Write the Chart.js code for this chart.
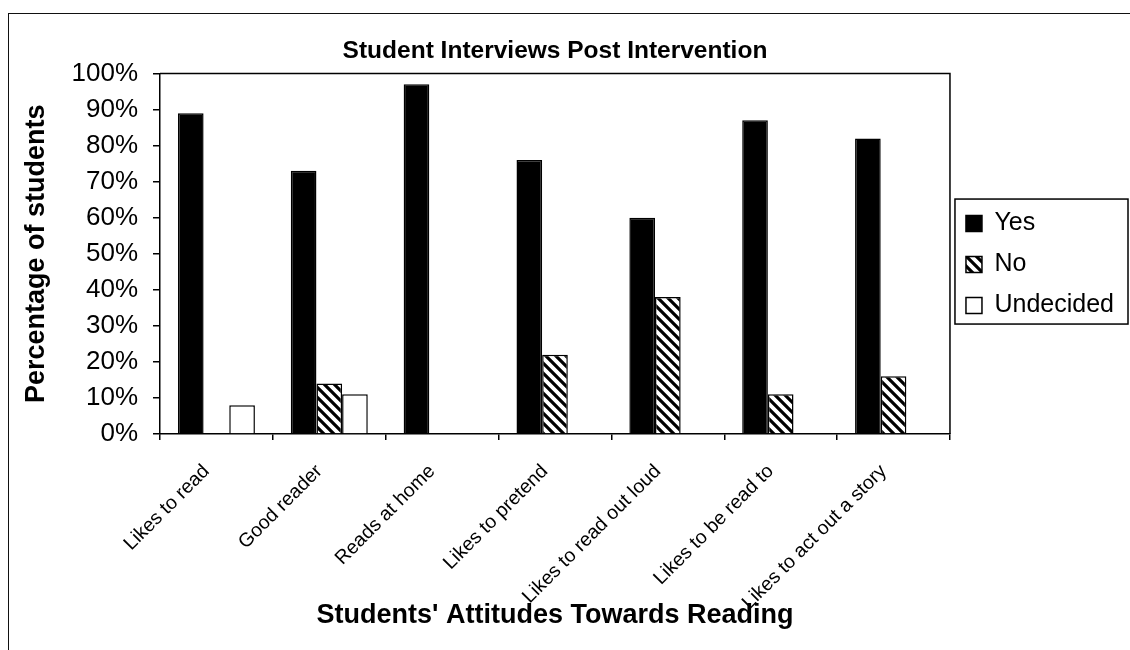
<!DOCTYPE html>
<html>
<head>
<meta charset="utf-8">
<title>Student Interviews Post Intervention</title>
<script src="https://cdn.jsdelivr.net/npm/chart.js@4.4.1/dist/chart.umd.min.js"></script>
<style>
  html, body { margin: 0; padding: 0; background: #fff; }
  #wrap { position: relative; width: 1130px; height: 650px; overflow: hidden; }
  #frame { position: absolute; left: 8px; top: 13px; right: -10px; bottom: -10px;
           border-top: 1.5px solid #111; border-left: 1.5px solid #111; }
  #chart { position: absolute; left: 0; top: 0; }
</style>
</head>
<body>
<div id="wrap">
  <div id="frame"></div>
  <canvas id="chart" width="1130" height="650"></canvas>
</div>
<script>
// Survey results (percent of students answering each way)
const categories = [
  'Likes to read',
  'Good reader',
  'Reads at home',
  'Likes to pretend',
  'Likes to read out loud',
  'Likes to be read to',
  'Likes to act out a story'
];
const yesValues       = [89, 73, 97, 76, 60, 87, 82];
const noValues        = [0, 14, 0, 22, 38, 11, 16];
const undecidedValues = [8, 11, 0, 0, 0, 0, 0];
const yTickLabels = ['0%', '10%', '20%', '30%', '40%', '50%', '60%', '70%', '80%', '90%', '100%'];

const FONT = '"Liberation Sans", Arial, Helvetica, sans-serif';

// Diagonal hatch fill for the "No" answers
function makeHatch() {
  const s = 10;
  const c = document.createElement('canvas');
  c.width = s; c.height = s;
  const g = c.getContext('2d');
  g.fillStyle = '#fff';
  g.fillRect(0, 0, s, s);
  g.strokeStyle = '#000';
  g.lineWidth = 3.2;
  g.beginPath();
  g.moveTo(-2, -2); g.lineTo(s + 2, s + 2);
  g.moveTo(-2, s - 2); g.lineTo(2, s + 2);
  g.moveTo(s - 2, -2); g.lineTo(s + 2, 2);
  g.stroke();
  return g.createPattern(c, 'repeat');
}

// Closes the plot box on its top and right sides
const plotFrame = {
  id: 'plotFrame',
  afterDatasetsDraw(chart) {
    const { ctx, chartArea: a } = chart;
    ctx.save();
    ctx.strokeStyle = '#000';
    ctx.lineWidth = 1.5;
    ctx.beginPath();
    ctx.moveTo(a.left, a.top);
    ctx.lineTo(a.right, a.top);
    ctx.lineTo(a.right, a.bottom);
    ctx.stroke();
    ctx.restore();
  }
};

// Box around the legend entries
const legendFrame = {
  id: 'legendFrame',
  afterDraw(chart) {
    const boxes = chart.legend && chart.legend.legendHitBoxes;
    if (!boxes || !boxes.length) return;
    let l = Infinity, t = Infinity, r = -Infinity, b = -Infinity;
    boxes.forEach(h => {
      l = Math.min(l, h.left); t = Math.min(t, h.top);
      r = Math.max(r, h.left + h.width); b = Math.max(b, h.top + h.height);
    });
    const ctx = chart.ctx;
    ctx.save();
    ctx.strokeStyle = '#000';
    ctx.lineWidth = 1.5;
    ctx.strokeRect(l - 11, t - 12, r - l + 25, b - t + 18);
    ctx.restore();
  }
};

new Chart(document.getElementById('chart').getContext('2d'), {
  type: 'bar',
  data: {
    labels: categories,
    datasets: [
      { label: 'Yes', data: yesValues, backgroundColor: '#000', borderColor: '#000', borderWidth: 1.5 },
      { label: 'No', data: noValues, backgroundColor: makeHatch(), borderColor: '#000', borderWidth: 1.5 },
      { label: 'Undecided', data: undecidedValues, backgroundColor: '#fff', borderColor: '#000', borderWidth: 1.5 }
    ]
  },
  options: {
    responsive: false,
    animation: false,
    layout: { padding: { left: 20, right: 6, top: 0, bottom: 10 } },
    datasets: { bar: { barPercentage: 1, categoryPercentage: 0.682 } },
    scales: {
      x: {
        grid: { display: true, drawOnChartArea: false, drawTicks: true, tickLength: 6,
                color: '#000', lineWidth: 1.5, offset: true },
        border: { display: true, color: '#000', width: 1.5 },
        ticks: { color: '#000', font: { family: FONT, size: 19.5 },
                 minRotation: 45, maxRotation: 45, autoSkip: false, padding: 20, labelOffset: -10 },
        title: { display: true, text: "Students' Attitudes Towards Reading", color: '#000',
                 font: { family: FONT, size: 27, weight: 'bold' }, padding: { top: 0, bottom: 8 } },
        afterFit(scale) { scale.height = 206; }
      },
      y: {
        min: 0, max: 100,
        grid: { display: true, drawOnChartArea: false, drawTicks: true, tickLength: 7,
                color: '#000', lineWidth: 1.5 },
        border: { display: true, color: '#000', width: 1.5 },
        ticks: { stepSize: 10, color: '#000', font: { family: FONT, size: 26 }, padding: 15,
                 callback: v => yTickLabels[Math.round(v / 10)] },
        title: { display: true, text: 'Percentage of students', color: '#000',
                 font: { family: FONT, size: 27, weight: 'bold' }, padding: { top: 0.8, bottom: 0 } },
        afterFit(scale) { scale.width = 140; }
      }
    },
    plugins: {
      title: {
        display: true, text: 'Student Interviews Post Intervention', color: '#000', fullSize: false,
        font: { family: FONT, size: 24.5, weight: 'bold' }, padding: { top: 36.3, bottom: 7.8 }
      },
      legend: {
        position: 'right', fullSize: false,
        title: { display: true, text: '', font: { family: FONT, size: 18 }, padding: 0 },
        labels: { color: '#000', font: { family: FONT, size: 25 }, boxWidth: 16, boxHeight: 16, padding: 16 }
      },
      tooltip: { enabled: false }
    }
  },
  plugins: [plotFrame, legendFrame]
});
</script>
</body>
</html>
